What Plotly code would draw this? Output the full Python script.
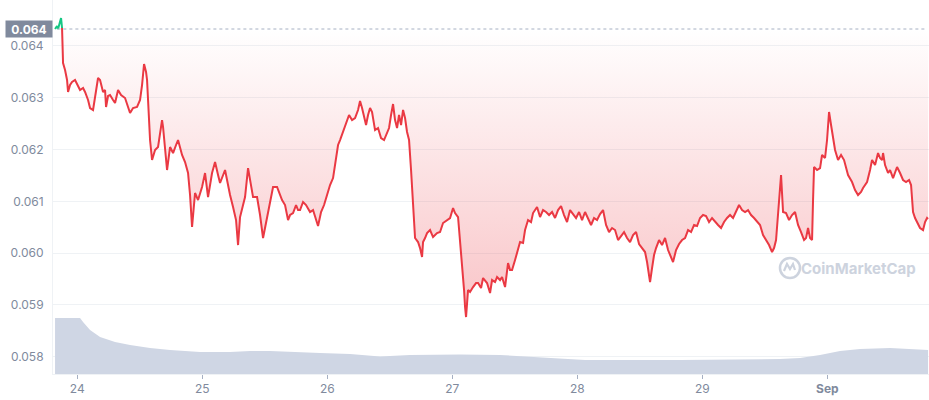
import plotly.graph_objects as go

# ---------------- data ----------------
# time in days since Aug 24 00:00 (tick "24" = 0)
days = [
    -0.178, -0.162, -0.154, -0.138, -0.130, -0.122, -0.114, -0.098, -0.082, -0.074,
    -0.058, -0.042, -0.018, 0.006, 0.022, 0.046, 0.062, 0.086, 0.102, 0.126,
    0.142, 0.166, 0.182, 0.206, 0.222, 0.230, 0.246, 0.262, 0.286, 0.302,
    0.326, 0.350, 0.382, 0.406, 0.422, 0.446, 0.478, 0.502, 0.518, 0.534,
    0.550, 0.558, 0.574, 0.582, 0.598, 0.622, 0.646, 0.662, 0.678, 0.686,
    0.702, 0.718, 0.742, 0.766, 0.790, 0.806, 0.838, 0.862, 0.886, 0.902,
    0.918, 0.942, 0.966, 0.998, 1.022, 1.046, 1.078, 1.102, 1.126, 1.142,
    1.182, 1.206, 1.222, 1.246, 1.270, 1.286, 1.302, 1.326, 1.342, 1.366,
    1.382, 1.406, 1.438, 1.462, 1.486, 1.502, 1.518, 1.542, 1.566, 1.598,
    1.622, 1.638, 1.662, 1.686, 1.702, 1.726, 1.750, 1.766, 1.782, 1.806,
    1.830, 1.862, 1.886, 1.910, 1.926, 1.950, 1.974, 1.998, 2.022, 2.046,
    2.070, 2.086, 2.102, 2.126, 2.150, 2.174, 2.198, 2.222, 2.246, 2.262,
    2.278, 2.294, 2.310, 2.326, 2.342, 2.358, 2.382, 2.406, 2.430, 2.454,
    2.470, 2.494, 2.510, 2.526, 2.542, 2.558, 2.574, 2.590, 2.606, 2.622,
    2.638, 2.654, 2.670, 2.678, 2.686, 2.702, 2.726, 2.742, 2.758, 2.766,
    2.782, 2.798, 2.822, 2.846, 2.878, 2.902, 2.926, 2.958, 2.982, 3.006,
    3.022, 3.046, 3.062, 3.078, 3.086, 3.094, 3.102, 3.110, 3.126, 3.142,
    3.166, 3.190, 3.206, 3.230, 3.246, 3.278, 3.302, 3.318, 3.342, 3.358,
    3.382, 3.398, 3.422, 3.446, 3.462, 3.478, 3.502, 3.518, 3.542, 3.566,
    3.582, 3.606, 3.630, 3.646, 3.678, 3.702, 3.726, 3.750, 3.774, 3.798,
    3.822, 3.846, 3.870, 3.894, 3.918, 3.942, 3.966, 3.990, 4.014, 4.038,
    4.062, 4.086, 4.110, 4.134, 4.158, 4.182, 4.206, 4.230, 4.254, 4.278,
    4.302, 4.326, 4.350, 4.374, 4.398, 4.422, 4.446, 4.470, 4.494, 4.518,
    4.542, 4.558, 4.574, 4.582, 4.598, 4.614, 4.630, 4.654, 4.678, 4.702,
    4.726, 4.750, 4.766, 4.790, 4.814, 4.838, 4.862, 4.886, 4.910, 4.934,
    4.958, 4.982, 5.006, 5.030, 5.054, 5.078, 5.102, 5.126, 5.150, 5.174,
    5.198, 5.222, 5.246, 5.270, 5.294, 5.318, 5.342, 5.366, 5.390, 5.414,
    5.438, 5.462, 5.486, 5.510, 5.534, 5.558, 5.574, 5.590, 5.606, 5.614,
    5.630, 5.646, 5.670, 5.694, 5.718, 5.742, 5.766, 5.790, 5.814, 5.830,
    5.846, 5.862, 5.878, 5.886, 5.894, 5.918, 5.942, 5.958, 5.982, 5.998,
    6.014, 6.030, 6.046, 6.062, 6.086, 6.110, 6.134, 6.150, 6.166, 6.198,
    6.222, 6.246, 6.270, 6.286, 6.318, 6.342, 6.358, 6.382, 6.406, 6.422,
    6.438, 6.446, 6.462, 6.486, 6.502, 6.526, 6.558, 6.582, 6.606, 6.630,
    6.654, 6.670, 6.678, 6.686, 6.702, 6.718, 6.742, 6.766, 6.782, 6.798,
    6.806,
]

prices = [
    0.064328, 0.064386, 0.064328, 0.064463, 0.064540, 0.064347, 0.063671, 0.063536, 0.063343, 0.063111,
    0.063246, 0.063304, 0.063343, 0.063227, 0.063150, 0.063189, 0.063111, 0.062957, 0.062802, 0.062764,
    0.063053, 0.063382, 0.063343, 0.063111, 0.063150, 0.062822, 0.063034, 0.063053, 0.062957, 0.062899,
    0.063150, 0.063053, 0.062995, 0.062802, 0.062706, 0.062802, 0.062822, 0.062957, 0.063246, 0.063652,
    0.063498, 0.063343, 0.062667, 0.062184, 0.061798, 0.061991, 0.062049, 0.062281, 0.062570, 0.062435,
    0.061991, 0.061605, 0.062049, 0.061933, 0.062088, 0.062184, 0.061895, 0.061759, 0.061547, 0.061122,
    0.060504, 0.061161, 0.061025, 0.061277, 0.061547, 0.061083, 0.061547, 0.061759, 0.061508, 0.061354,
    0.061605, 0.061277, 0.061122, 0.060890, 0.060639, 0.060156, 0.060697, 0.060929, 0.061083, 0.061643,
    0.061412, 0.061083, 0.061083, 0.060736, 0.060292, 0.060485, 0.060639, 0.060929, 0.061277, 0.061277,
    0.061122, 0.061025, 0.060929, 0.060639, 0.060736, 0.060774, 0.060929, 0.060832, 0.060832, 0.060987,
    0.060929, 0.060794, 0.060832, 0.060639, 0.060523, 0.060794, 0.060929, 0.061122, 0.061315, 0.061450,
    0.061895, 0.062088, 0.062184, 0.062339, 0.062474, 0.062667, 0.062570, 0.062609, 0.062764, 0.062937,
    0.062802, 0.062609, 0.062474, 0.062667, 0.062802, 0.062725, 0.062377, 0.062416, 0.062223, 0.062184,
    0.062281, 0.062416, 0.062667, 0.062879, 0.062570, 0.062416, 0.062667, 0.062474, 0.062764, 0.062609,
    0.062339, 0.062184, 0.061605, 0.061219, 0.060832, 0.060292, 0.060214, 0.060098, 0.059925, 0.060214,
    0.060292, 0.060388, 0.060446, 0.060311, 0.060388, 0.060407, 0.060581, 0.060639, 0.060678, 0.060871,
    0.060774, 0.060697, 0.060253, 0.059809, 0.059635, 0.059287, 0.058959, 0.058766, 0.059287, 0.059249,
    0.059345, 0.059422, 0.059422, 0.059326, 0.059519, 0.059422, 0.059229, 0.059480, 0.059442, 0.059538,
    0.059480, 0.059538, 0.059345, 0.059809, 0.059674, 0.059674, 0.059867, 0.060021, 0.060214, 0.060195,
    0.060446, 0.060639, 0.060601, 0.060774, 0.060890, 0.060697, 0.060832, 0.060794, 0.060736, 0.060794,
    0.060678, 0.060832, 0.060910, 0.060736, 0.060601, 0.060832, 0.060755, 0.060678, 0.060794, 0.060639,
    0.060794, 0.060678, 0.060543, 0.060678, 0.060639, 0.060755, 0.060832, 0.060543, 0.060407, 0.060485,
    0.060446, 0.060253, 0.060330, 0.060407, 0.060292, 0.060214, 0.060349, 0.060407, 0.060176, 0.060098,
    0.060021, 0.059828, 0.059577, 0.059442, 0.059712, 0.059963, 0.060098, 0.060253, 0.060156, 0.060292,
    0.060060, 0.059905, 0.059828, 0.060060, 0.060176, 0.060253, 0.060292, 0.060446, 0.060407, 0.060543,
    0.060523, 0.060678, 0.060736, 0.060716, 0.060601, 0.060678, 0.060601, 0.060543, 0.060485, 0.060601,
    0.060678, 0.060736, 0.060678, 0.060794, 0.060929, 0.060832, 0.060794, 0.060832, 0.060736, 0.060678,
    0.060601, 0.060543, 0.060349, 0.060253, 0.060156, 0.060021, 0.060098, 0.060253, 0.060832, 0.061122,
    0.061508, 0.060794, 0.060774, 0.060639, 0.060736, 0.060794, 0.060543, 0.060407, 0.060253, 0.060292,
    0.060485, 0.060292, 0.060253, 0.061025, 0.061663, 0.061605, 0.061643, 0.061895, 0.061837, 0.062184,
    0.062725, 0.062474, 0.062184, 0.061991, 0.061798, 0.061895, 0.061798, 0.061643, 0.061508, 0.061373,
    0.061219, 0.061122, 0.061180, 0.061257, 0.061373, 0.061605, 0.061798, 0.061701, 0.061933, 0.061837,
    0.061798, 0.061933, 0.061701, 0.061547, 0.061605, 0.061450, 0.061663, 0.061547, 0.061412, 0.061373,
    0.061412, 0.061315, 0.061122, 0.060794, 0.060678, 0.060601, 0.060485, 0.060446, 0.060601, 0.060678,
    0.060659,
]

open_price = 0.064328

# trading volume (arbitrary units, millions)
vol_days = [-0.178, 0.022, 0.046, 0.102, 0.182, 0.302, 0.422, 0.582, 0.742, 0.982,
            1.222, 1.382, 1.542, 1.702, 1.942, 2.182, 2.422, 2.662, 3.062, 3.382,
            3.702, 4.062, 4.822, 5.622, 5.782, 5.942, 6.102, 6.262, 6.502, 6.662, 6.806]
volume = [5.6, 5.6, 5.2, 4.4, 3.7, 3.2, 2.9, 2.6, 2.4, 2.2,
          2.2, 2.3, 2.3, 2.2, 2.1, 2.0, 1.75, 1.9, 1.95, 1.9,
          1.65, 1.4, 1.4, 1.5, 1.6, 1.9, 2.3, 2.5, 2.6, 2.5, 2.4]

tick_vals = [0, 1, 2, 3, 4, 5, 6]
tick_text = ["24", "25", "26", "27", "28", "29", "<b>Sep</b>"]
y_ticks = [0.058, 0.059, 0.060, 0.061, 0.062, 0.063, 0.064]

assert len(days) == len(prices)

RED = "#ea3943"
GREEN = "#16c784"
GRAY = "#808a9d"
WM = "#cdd3de"
FONT = "Inter, Roboto, sans-serif"

split = next(i for i, p in enumerate(prices) if p < open_price)

fig = go.Figure()

# volume area (secondary axis)
fig.add_trace(go.Scatter(
    x=vol_days, y=volume, yaxis="y2", mode="lines",
    line=dict(width=0, color="#cfd6e4"), fill="tozeroy",
    fillcolor="#cfd6e4", hoverinfo="skip", showlegend=False))

# baseline for the fill
fig.add_trace(go.Scatter(
    x=[days[0], days[-1]], y=[open_price, open_price], mode="lines",
    line=dict(width=0), hoverinfo="skip", showlegend=False))

# gradient fill between price and baseline
fig.add_trace(go.Scatter(
    x=days, y=prices, mode="lines", line=dict(width=0),
    fill="tonexty",
    fillgradient=dict(type="vertical",
                      colorscale=[[0, "rgba(234,57,67,0.30)"],
                                  [1, "rgba(234,57,67,0.0)"]],
                      start=min(prices), stop=open_price),
    hoverinfo="skip", showlegend=False))

# price lines
fig.add_trace(go.Scatter(
    x=days[:split], y=prices[:split], mode="lines",
    line=dict(color=GREEN, width=2), showlegend=False))
fig.add_trace(go.Scatter(
    x=days[split - 1:], y=prices[split - 1:], mode="lines",
    line=dict(color=RED, width=2), showlegend=False))

# dotted opening-price line
fig.add_shape(type="line", xref="paper", yref="y", x0=0.005, x1=0.997,
              y0=open_price, y1=open_price,
              line=dict(color="#a6b0c3", width=1, dash="dot"))

# opening price label
fig.add_annotation(xref="paper", yref="y", x=0, y=open_price,
                   xanchor="right", yanchor="middle",
                   text="<b>0.064</b>", showarrow=False,
                   font=dict(family=FONT, size=12, color="white"),
                   bgcolor=GRAY, width=44, height=14, borderpad=1)

# watermark
fig.add_annotation(xref="paper", yref="paper", x=0.9874, y=0.2834,
                   text="<b>CoinMarketCap</b>", showarrow=False,
                   font=dict(family=FONT, size=15, color=WM),
                   xanchor="right", yanchor="middle")
fig.add_shape(type="circle", xref="paper", yref="paper",
              xsizemode="pixel", ysizemode="pixel",
              xanchor=0.8413, yanchor=0.2834,
              x0=-10, x1=10, y0=-10, y1=10,
              line=dict(color=WM, width=2.5))
fig.add_shape(type="path", xref="paper", yref="paper",
              xsizemode="pixel", ysizemode="pixel",
              xanchor=0.8413, yanchor=0.2834,
              path="M -6,-3 L -3,4 L 0,-1 L 3,4 L 5,-2",
              line=dict(color=WM, width=2.2))

fig.update_layout(
    width=929, height=400,
    margin=dict(l=53, r=0, t=0, b=26),
    plot_bgcolor="white", paper_bgcolor="white",
    font=dict(family=FONT, size=12, color=GRAY),
    showlegend=False,
    xaxis=dict(range=[-0.1944, 6.8136], tickvals=tick_vals, ticktext=tick_text,
               showgrid=False, zeroline=False, ticks="outside", ticklen=4,
               tickcolor="#a6b0c3", showline=True, linecolor="#eff2f5",
               tickfont=dict(size=12, color=GRAY)),
    yaxis=dict(range=[0.057666, 0.064888], tickvals=y_ticks, tickformat=".3f",
               showgrid=True, gridcolor="#eff2f5", zeroline=False,
               showline=True, linecolor="#eff2f5", ticks="",
               ticklabelstandoff=6, tickfont=dict(size=12, color=GRAY)),
    yaxis2=dict(range=[0, 37.4], overlaying="y", visible=False),
)

fig.write_html("out.html", config={"displayModeBar": False},
               post_script="document.body.style.margin='0';document.body.style.padding='0';")
